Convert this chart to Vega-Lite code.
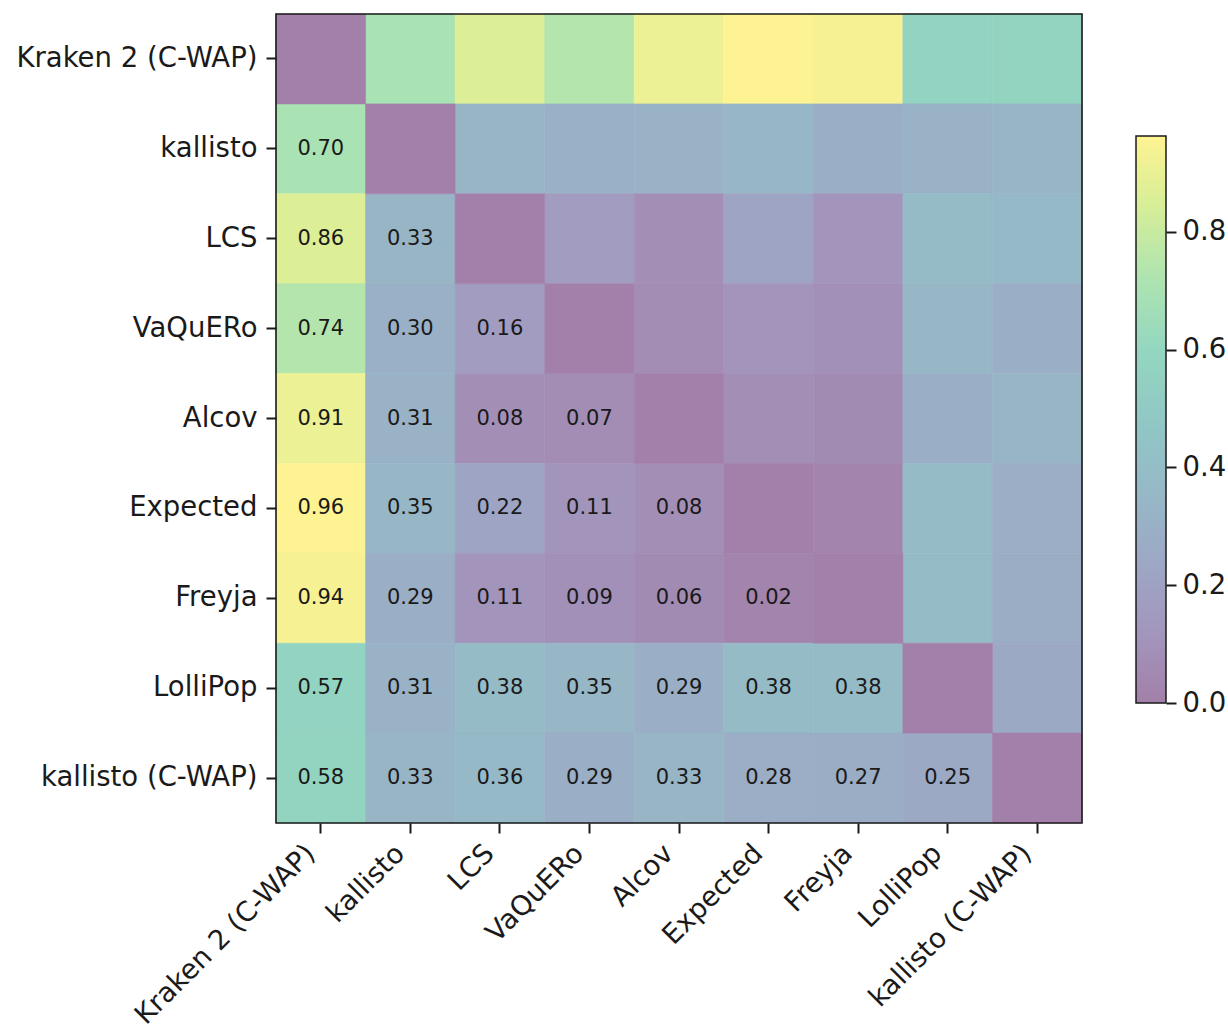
{
  "$schema": "https://vega.github.io/schema/vega-lite/v6.json",
  "background": "white",
  "padding": {"left": 15, "top": 13, "right": 0, "bottom": 0},
  "config": {
    "font": "DejaVu Sans",
    "view": {"stroke": null},
    "axis": {
      "labelFont": "DejaVu Sans",
      "labelFontSize": 27.5,
      "labelColor": "#1a1a1a",
      "labelLimit": 0,
      "tickColor": "#1a1a1a",
      "tickSize": 10,
      "tickWidth": 2,
      "domain": false,
      "grid": false,
      "title": null,
      "labelPadding": 9
    }
  },
  "datasets": {
    "pairs": [
      {"a": "kallisto", "b": "Kraken 2 (C-WAP)", "d": 0.70},
      {"a": "LCS", "b": "Kraken 2 (C-WAP)", "d": 0.86},
      {"a": "LCS", "b": "kallisto", "d": 0.33},
      {"a": "VaQuERo", "b": "Kraken 2 (C-WAP)", "d": 0.74},
      {"a": "VaQuERo", "b": "kallisto", "d": 0.30},
      {"a": "VaQuERo", "b": "LCS", "d": 0.16},
      {"a": "Alcov", "b": "Kraken 2 (C-WAP)", "d": 0.91},
      {"a": "Alcov", "b": "kallisto", "d": 0.31},
      {"a": "Alcov", "b": "LCS", "d": 0.08},
      {"a": "Alcov", "b": "VaQuERo", "d": 0.07},
      {"a": "Expected", "b": "Kraken 2 (C-WAP)", "d": 0.96},
      {"a": "Expected", "b": "kallisto", "d": 0.35},
      {"a": "Expected", "b": "LCS", "d": 0.22},
      {"a": "Expected", "b": "VaQuERo", "d": 0.11},
      {"a": "Expected", "b": "Alcov", "d": 0.08},
      {"a": "Freyja", "b": "Kraken 2 (C-WAP)", "d": 0.94},
      {"a": "Freyja", "b": "kallisto", "d": 0.29},
      {"a": "Freyja", "b": "LCS", "d": 0.11},
      {"a": "Freyja", "b": "VaQuERo", "d": 0.09},
      {"a": "Freyja", "b": "Alcov", "d": 0.06},
      {"a": "Freyja", "b": "Expected", "d": 0.02},
      {"a": "LolliPop", "b": "Kraken 2 (C-WAP)", "d": 0.57},
      {"a": "LolliPop", "b": "kallisto", "d": 0.31},
      {"a": "LolliPop", "b": "LCS", "d": 0.38},
      {"a": "LolliPop", "b": "VaQuERo", "d": 0.35},
      {"a": "LolliPop", "b": "Alcov", "d": 0.29},
      {"a": "LolliPop", "b": "Expected", "d": 0.38},
      {"a": "LolliPop", "b": "Freyja", "d": 0.38},
      {"a": "kallisto (C-WAP)", "b": "Kraken 2 (C-WAP)", "d": 0.58},
      {"a": "kallisto (C-WAP)", "b": "kallisto", "d": 0.33},
      {"a": "kallisto (C-WAP)", "b": "LCS", "d": 0.36},
      {"a": "kallisto (C-WAP)", "b": "VaQuERo", "d": 0.29},
      {"a": "kallisto (C-WAP)", "b": "Alcov", "d": 0.33},
      {"a": "kallisto (C-WAP)", "b": "Expected", "d": 0.28},
      {"a": "kallisto (C-WAP)", "b": "Freyja", "d": 0.27},
      {"a": "kallisto (C-WAP)", "b": "LolliPop", "d": 0.25}
    ],
    "diag": [
      {"name": "Kraken 2 (C-WAP)", "d": 0},
      {"name": "kallisto", "d": 0},
      {"name": "LCS", "d": 0},
      {"name": "VaQuERo", "d": 0},
      {"name": "Alcov", "d": 0},
      {"name": "Expected", "d": 0},
      {"name": "Freyja", "d": 0},
      {"name": "LolliPop", "d": 0},
      {"name": "kallisto (C-WAP)", "d": 0}
    ],
    "bar": [{"lo": 0, "hi": 0.963}]
  },
  "spacing": 52,
  "hconcat": [
    {
      "width": 806,
      "height": 809,
      "encoding": {
        "color": {"field": "d", "type": "quantitative", "legend": null, "scale": {"domain": [0, 0.963], "interpolate": "rgb", "range": ["#a280a9", "#a396bd", "#9da8c5", "#96b9c7", "#90c8c5", "#94d7c0", "#aee4b0", "#d6ee98", "#fef392"]}},
        "stroke": {"field": "d", "type": "quantitative", "legend": null, "scale": {"domain": [0, 0.963], "interpolate": "rgb", "range": ["#a280a9", "#a396bd", "#9da8c5", "#96b9c7", "#90c8c5", "#94d7c0", "#aee4b0", "#d6ee98", "#fef392"]}}
      },
      "layer": [
        {
          "data": {"name": "pairs"},
          "mark": {"type": "rect", "strokeWidth": 0.6},
          "encoding": {
            "x": {"field": "b", "type": "nominal", "scale": {"domain": ["Kraken 2 (C-WAP)", "kallisto", "LCS", "VaQuERo", "Alcov", "Expected", "Freyja", "LolliPop", "kallisto (C-WAP)"], "paddingInner": 0, "paddingOuter": 0}, "axis": {"labelAngle": -45, "labelAlign": "right", "labelBaseline": "bottom", "labelPadding": 26}},
            "y": {"field": "a", "type": "nominal", "scale": {"domain": ["Kraken 2 (C-WAP)", "kallisto", "LCS", "VaQuERo", "Alcov", "Expected", "Freyja", "LolliPop", "kallisto (C-WAP)"], "paddingInner": 0, "paddingOuter": 0}}
          }
        },
        {
          "data": {"name": "pairs"},
          "mark": {"type": "rect", "strokeWidth": 0.6},
          "encoding": {
            "x": {"field": "a", "type": "nominal"},
            "y": {"field": "b", "type": "nominal"}
          }
        },
        {
          "data": {"name": "diag"},
          "mark": {"type": "rect", "strokeWidth": 0.6},
          "encoding": {
            "x": {"field": "name", "type": "nominal"},
            "y": {"field": "name", "type": "nominal"}
          }
        },
        {
          "data": {"name": "pairs"},
          "mark": {"type": "text", "fontSize": 21, "font": "DejaVu Sans"},
          "encoding": {
            "x": {"field": "b", "type": "nominal"},
            "y": {"field": "a", "type": "nominal"},
            "text": {"field": "d", "type": "quantitative", "format": ".2f"},
            "color": {"value": "#1a1a1a"},
            "stroke": {"value": null}
          }
        },
        {
          "data": {"values": [{"frame": "plot"}]},
          "mark": {"type": "rect", "filled": false, "strokeWidth": 1.6},
          "encoding": {
            "x": {"value": 0},
            "x2": {"value": "width"},
            "y": {"value": 0},
            "y2": {"value": "height"},
            "color": {"value": null},
            "stroke": {"value": "#1a1a1a"}
          }
        }
      ]
    },
    {
      "width": 30,
      "height": 809,
      "data": {"name": "bar"},
      "mark": {
        "type": "rect",
        "stroke": "#1a1a1a",
        "strokeWidth": 1.5,
        "color": {
          "gradient": "linear",
          "x1": 0, "y1": 1, "x2": 0, "y2": 0,
          "stops": [
            {"offset": 0, "color": "#a280a9"},
            {"offset": 0.125, "color": "#a396bd"},
            {"offset": 0.25, "color": "#9da8c5"},
            {"offset": 0.375, "color": "#96b9c7"},
            {"offset": 0.5, "color": "#90c8c5"},
            {"offset": 0.625, "color": "#94d7c0"},
            {"offset": 0.75, "color": "#aee4b0"},
            {"offset": 0.875, "color": "#d6ee98"},
            {"offset": 1, "color": "#fef392"}
          ]
        }
      },
      "encoding": {
        "x": {"value": 0},
        "x2": {"value": "width"},
        "y": {"field": "lo", "type": "quantitative", "scale": {"domain": [-0.2038, 1.1702], "nice": false, "zero": false}, "axis": {"orient": "right", "values": [0, 0.2, 0.4, 0.6, 0.8], "format": ".1f", "labelPadding": 6}},
        "y2": {"field": "hi"}
      }
    }
  ]
}
